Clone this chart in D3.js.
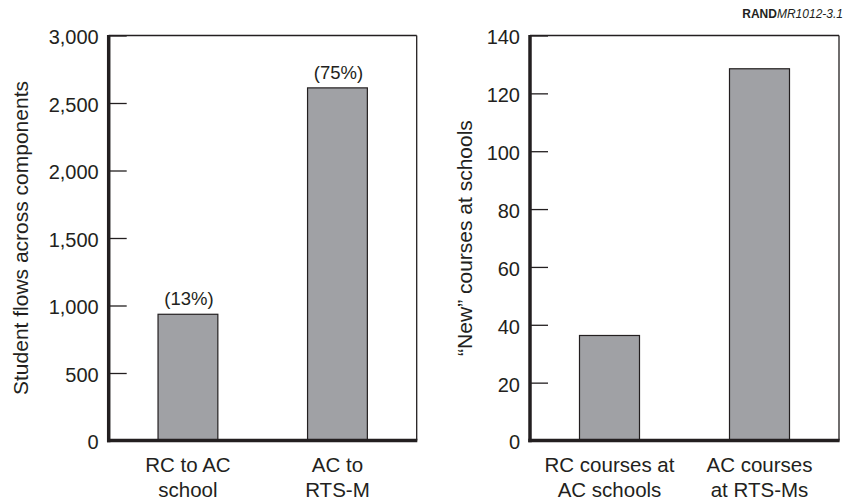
<!DOCTYPE html>
<html>
<head>
<meta charset="utf-8">
<script src="https://cdn.jsdelivr.net/npm/d3@7/dist/d3.min.js"></script>
<style>
  html, body { margin: 0; padding: 0; background: #fff; }
  svg { display: block; }
  text { font-family: "Liberation Sans", Arial, Helvetica, sans-serif; fill: #231f20; }
</style>
</head>
<body>
<svg id="chart" width="846" height="502"></svg>
<script>
// ---- Data ----
const leftCategories = [["RC to AC", "school"], ["AC to", "RTS-M"]];
const leftValues = [935, 2612];
const leftBarLabels = ["(13%)", "(75%)"];
const leftTicks = [0, 500, 1000, 1500, 2000, 2500, 3000];
const leftTitle = "Student flows across components";

const rightCategories = [["RC courses at", "AC schools"], ["AC courses", "at RTS-Ms"]];
const rightValues = [36.3, 128.5];
const rightTicks = [0, 20, 40, 60, 80, 100, 120, 140];
const rightTitle = "\u201cNew\u201d courses at schools";

const sourceBold = "RAND";
const sourceItalic = "MR1012-3.1";

// ---- Drawing ----
const svg = d3.select("#chart");
const ink = "#231f20";
const barFill = "#a0a1a5";

function panel(opt) {
  const {x0, x1, y0, y1, cats, vals, labels, ticks, yMax, fmt, title, titleX} = opt;
  const g = svg.append("g");
  const x = d3.scaleBand().domain(cats.map((d, i) => i)).range([x0, x1])
    .paddingInner(0.6).paddingOuter(0.33);
  const y = d3.scaleLinear().domain([0, yMax]).range([y1, y0]);

  // bars
  g.selectAll("rect.bar").data(vals).join("rect")
    .attr("class", "bar")
    .attr("x", (d, i) => x(i))
    .attr("width", x.bandwidth())
    .attr("y", d => y(d))
    .attr("height", d => y(0) - y(d))
    .attr("fill", barFill)
    .attr("stroke", ink)
    .attr("stroke-width", 1.2);

  // bar labels
  if (labels) {
    g.selectAll("text.blab").data(vals).join("text")
      .attr("class", "blab")
      .attr("x", (d, i) => x(i) + x.bandwidth() / 2 + 1)
      .attr("y", d => y(d) - 9)
      .attr("text-anchor", "middle")
      .attr("font-size", 18.5)
      .text((d, i) => labels[i]);
  }

  // y axis
  const ax = g.append("g").attr("transform", `translate(${x0},0)`)
    .call(d3.axisLeft(y).tickValues(ticks).tickFormat(fmt).tickSize(-18).tickPadding(10));
  ax.select(".domain").remove();
  ax.selectAll(".tick line").attr("stroke", ink).attr("stroke-width", 1.3);
  ax.selectAll(".tick text").attr("font-size", 20).attr("fill", ink)
    .attr("font-family", '"Liberation Sans", Arial, sans-serif').attr("dy", "0.42em");

  // frame: thin top/right, thick left/bottom
  g.append("line").attr("x1", x0).attr("x2", x1).attr("y1", y0).attr("y2", y0)
    .attr("stroke", ink).attr("stroke-width", 1.3);
  g.append("line").attr("x1", x1).attr("x2", x1).attr("y1", y0).attr("y2", y1)
    .attr("stroke", ink).attr("stroke-width", 1.3);
  g.append("line").attr("x1", x0).attr("x2", x0).attr("y1", y0 - 0.6).attr("y2", y1 + 1.7)
    .attr("stroke", ink).attr("stroke-width", 3.5);
  g.append("line").attr("x1", x0 - 1.7).attr("x2", x1 + 0.6).attr("y1", y1).attr("y2", y1)
    .attr("stroke", ink).attr("stroke-width", 3.5);

  // x category labels (two lines)
  cats.forEach((lines, i) => {
    const t = g.append("text")
      .attr("x", x(i) + x.bandwidth() / 2)
      .attr("y", y1 + 31)
      .attr("text-anchor", "middle")
      .attr("font-size", 20.5);
    lines.forEach((ln, j) => {
      t.append("tspan").attr("x", x(i) + x.bandwidth() / 2)
        .attr("dy", j === 0 ? 0 : 25.5).text(ln);
    });
  });

  // y title
  g.append("text")
    .attr("transform", `translate(${titleX},${(y0 + y1) / 2}) rotate(-90)`)
    .attr("text-anchor", "middle")
    .attr("font-size", 21)
    .text(title);
}

panel({
  x0: 108.7, x1: 416.7, y0: 35.5, y1: 440.5,
  cats: leftCategories, vals: leftValues, labels: leftBarLabels,
  ticks: leftTicks, yMax: 3000, fmt: d3.format(","), title: leftTitle, titleX: 28
});

panel({
  x0: 530, x1: 839, y0: 35.5, y1: 440.5,
  cats: rightCategories, vals: rightValues, labels: null,
  ticks: rightTicks, yMax: 140, fmt: d3.format("d"), title: rightTitle, titleX: 471.5
});

// source note
const src = svg.append("text")
  .attr("x", 843).attr("y", 18)
  .attr("text-anchor", "end")
  .attr("font-size", 12);
src.append("tspan").attr("font-weight", "bold").text(sourceBold);
src.append("tspan").attr("font-style", "italic").text(sourceItalic);
</script>
</body>
</html>
